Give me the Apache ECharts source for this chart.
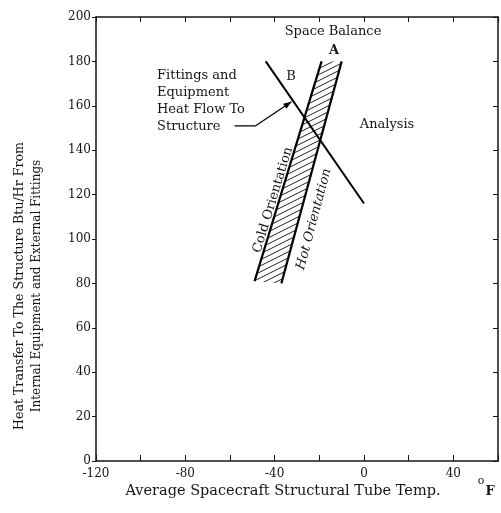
<!DOCTYPE html>
<html>
<head>
<meta charset="utf-8">
<style>
  html, body { margin: 0; padding: 0; background: #fff; }
  #chart { width: 501px; height: 513px; }
</style>
<script src="https://cdn.jsdelivr.net/npm/echarts@6/dist/echarts.min.js"></script>
</head>
<body>
<div id="chart"></div>
<script>
// band edges and line B (temp F, Btu/Hr)
const coldLine = [[-49, 81], [-19, 180]];
const hotLine = [[-37, 80], [-10, 180]];
const lineB = [[-44, 180], [0, 116]];
const arrowPath = [[-58, 151], [-48.5, 151], [-32.5, 161.8]];

const xTicks = [-120, -80, -40, 0, 40];
const yTicks = [0, 20, 40, 60, 80, 100, 120, 140, 160, 180, 200];

const serif = '"DejaVu Serif"';
const ink = '#151515';

// diagonal hatch tile
function hatchTile () {
  const w = 12, h = 6;
  const c = document.createElement('canvas');
  c.width = w;
  c.height = h;
  const ctx = c.getContext('2d');
  ctx.strokeStyle = '#222';
  ctx.lineWidth = 1;
  for (let k = -1; k <= 1; k++) {
    ctx.beginPath();
    ctx.moveTo(0, h + k * h);
    ctx.lineTo(w, k * h);
    ctx.stroke();
  }
  return c;
}
const hatch = { image: hatchTile(), repeat: 'repeat' };

const bandPoly = coldLine.concat(hotLine.slice().reverse());

const chart = echarts.init(document.getElementById('chart'));

const axisLine = { show: true, onZero: false, lineStyle: { color: ink, width: 1.5 } };

const option = {
  animation: false,
  grid: { left: 96, right: 1, top: 17, bottom: 52 },
  xAxis: [
    {
      type: 'value',
      min: -120,
      max: 60,
      interval: 20,
      axisLine: axisLine,
      axisTick: { inside: true, length: 6, lineStyle: { color: ink } },
      axisLabel: {
        margin: 7,
        color: ink,
        fontFamily: serif,
        fontSize: 12,
        formatter: function (v) { return xTicks.indexOf(v) >= 0 ? String(v) : ''; }
      },
      splitLine: { show: false }
    },
    {
      type: 'value',
      position: 'top',
      min: -120,
      max: 60,
      interval: 20,
      axisLine: axisLine,
      axisTick: { inside: true, length: 5, lineStyle: { color: ink } },
      axisLabel: { show: false },
      splitLine: { show: false }
    }
  ],
  yAxis: [
    {
      type: 'value',
      min: 0,
      max: 200,
      interval: 20,
      axisLine: axisLine,
      axisTick: { show: true, length: 4, lineStyle: { color: ink } },
      axisLabel: {
        margin: 5,
        color: ink,
        fontFamily: serif,
        fontSize: 12,
        formatter: function (v) { return yTicks.indexOf(v) >= 0 ? String(v) : ''; }
      },
      splitLine: { show: false }
    },
    {
      type: 'value',
      position: 'right',
      min: 0,
      max: 200,
      interval: 20,
      axisLine: axisLine,
      axisTick: { show: true, inside: true, length: 5, lineStyle: { color: ink } },
      axisLabel: { show: false },
      splitLine: { show: false }
    }
  ],
  series: [
    {
      type: 'custom',
      silent: true,
      renderItem: function (params, api) {
        const pts = bandPoly.map(function (p) { return api.coord(p); });
        return {
          type: 'polygon',
          shape: { points: pts },
          style: { fill: hatch, stroke: null }
        };
      },
      data: [0],
      z: 1
    },
    {
      name: 'Cold Orientation',
      type: 'line',
      data: coldLine,
      symbol: 'none',
      lineStyle: { color: '#000', width: 2.2 },
      z: 3
    },
    {
      name: 'Hot Orientation',
      type: 'line',
      data: hotLine,
      symbol: 'none',
      lineStyle: { color: '#000', width: 2.2 },
      z: 3
    },
    {
      name: 'B',
      type: 'line',
      data: lineB,
      symbol: 'none',
      lineStyle: { color: '#000', width: 2 },
      z: 3
    },
    {
      type: 'line',
      data: arrowPath,
      symbol: 'none',
      lineStyle: { color: '#000', width: 1.3 },
      z: 4
    },
    {
      // arrow head at the end of the pointer
      type: 'custom',
      silent: true,
      renderItem: function (params, api) {
        const a = api.coord(arrowPath[arrowPath.length - 2]);
        const b = api.coord(arrowPath[arrowPath.length - 1]);
        const ang = Math.atan2(b[1] - a[1], b[0] - a[0]);
        const len = 8, half = 3;
        const bx = b[0] - len * Math.cos(ang), by = b[1] - len * Math.sin(ang);
        const nx = -Math.sin(ang) * half, ny = Math.cos(ang) * half;
        return {
          type: 'polygon',
          shape: { points: [b, [bx + nx, by + ny], [bx - nx, by - ny]] },
          style: { fill: '#000' }
        };
      },
      data: [0],
      z: 5
    }
  ],
  graphic: [
    {
      type: 'text', x: 333, y: 32,
      style: { text: 'Space Balance', font: '13px ' + serif, fill: ink, textAlign: 'center', textVerticalAlign: 'middle' }
    },
    {
      type: 'text', x: 334, y: 51,
      style: { text: 'A', font: 'bold 13px ' + serif, fill: ink, textAlign: 'center', textVerticalAlign: 'middle' }
    },
    {
      type: 'text', x: 291, y: 77,
      style: { text: 'B', font: '13px ' + serif, fill: ink, textAlign: 'center', textVerticalAlign: 'middle' }
    },
    {
      type: 'text', x: 157, y: 67,
      style: {
        text: 'Fittings and\nEquipment\nHeat Flow To\nStructure',
        font: '13px ' + serif, lineHeight: 17, fill: ink, textAlign: 'left', textVerticalAlign: 'top'
      }
    },
    {
      type: 'text', x: 387, y: 125,
      style: { text: 'Analysis', font: '13px ' + serif, fill: ink, textAlign: 'center', textVerticalAlign: 'middle' }
    },
    {
      type: 'text', x: 273, y: 200, rotation: 73 * Math.PI / 180,
      style: { text: 'Cold Orientation', font: '13px ' + serif, fill: ink, textAlign: 'center', textVerticalAlign: 'middle' }
    },
    {
      type: 'text', x: 314, y: 219, rotation: 75 * Math.PI / 180,
      style: { text: 'Hot Orientation', font: 'italic 13px ' + serif, fill: ink, textAlign: 'center', textVerticalAlign: 'middle' }
    },
    {
      type: 'text', x: 20, y: 286, rotation: Math.PI / 2,
      style: { text: 'Heat Transfer To The Structure Btu/Hr From', font: '12.6px ' + serif, fill: ink, textAlign: 'center', textVerticalAlign: 'middle' }
    },
    {
      type: 'text', x: 37, y: 286, rotation: Math.PI / 2,
      style: { text: 'Internal Equipment and External Fittings', font: '12px ' + serif, fill: ink, textAlign: 'center', textVerticalAlign: 'middle' }
    },
    {
      type: 'text', x: 283, y: 491,
      style: { text: 'Average Spacecraft Structural Tube Temp.', font: '14.5px ' + serif, fill: ink, textAlign: 'center', textVerticalAlign: 'middle' }
    },
    {
      type: 'text', x: 481, y: 481,
      style: { text: 'o', font: '11px ' + serif, fill: ink, textAlign: 'center', textVerticalAlign: 'middle' }
    },
    {
      type: 'text', x: 490, y: 492,
      style: { text: 'F', font: 'bold 13px ' + serif, fill: ink, textAlign: 'center', textVerticalAlign: 'middle' }
    }
  ]
};

chart.setOption(option);
</script>
</body>
</html>
